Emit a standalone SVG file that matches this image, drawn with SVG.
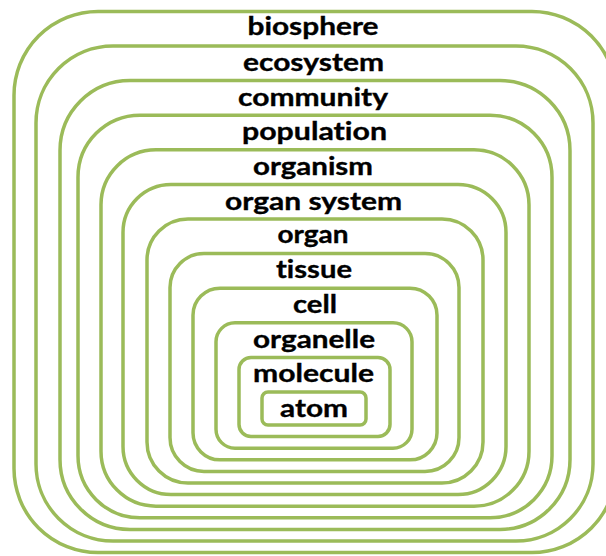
<svg xmlns="http://www.w3.org/2000/svg" width="606" height="556" viewBox="0 0 606 556">
<style>
.box{fill:none;stroke:#9BBB59;stroke-width:3.5}
.lbl{font-family:Lato,"Open Sans","Liberation Sans",sans-serif;font-weight:700;font-size:24.5px;fill:#000;stroke:#000;stroke-width:0.35;text-anchor:middle;font-variant-ligatures:none;font-feature-settings:"liga" 0,"dlig" 0}
</style>
<rect x="0" y="0" width="606" height="556" fill="#fff"/>
<g id="biosphere"><rect class="box" x="14" y="11.4" width="602" height="541.2" rx="84" ry="84"/><text class="lbl" x="313" y="35" textLength="131" lengthAdjust="spacingAndGlyphs">biosphere</text></g>
<g id="ecosystem"><rect class="box" x="36" y="46" width="557" height="495" rx="77" ry="77"/><text class="lbl" x="313.5" y="71" textLength="141" lengthAdjust="spacingAndGlyphs">ecosystem</text></g>
<g id="community"><rect class="box" x="60" y="80.6" width="510" height="448.8" rx="70" ry="70"/><text class="lbl" x="313" y="106" textLength="150" lengthAdjust="spacingAndGlyphs">community</text></g>
<g id="population"><rect class="box" x="78" y="115.2" width="474" height="402.6" rx="62" ry="62"/><text class="lbl" x="314.5" y="140" textLength="145" lengthAdjust="spacingAndGlyphs">population</text></g>
<g id="organism"><rect class="box" x="101" y="149.8" width="428" height="356.4" rx="55" ry="55"/><text class="lbl" x="313" y="175" textLength="120" lengthAdjust="spacingAndGlyphs">organism</text></g>
<g id="organ-system"><rect class="box" x="123" y="184.4" width="383" height="310.2" rx="48" ry="48"/><text class="lbl" x="313.5" y="210" textLength="177" lengthAdjust="spacingAndGlyphs">organ system</text></g>
<g id="organ"><rect class="box" x="147" y="219" width="336" height="264" rx="41" ry="41"/><text class="lbl" x="313" y="243" textLength="71" lengthAdjust="spacingAndGlyphs">organ</text></g>
<g id="tissue"><rect class="box" x="170" y="253.6" width="289" height="217.8" rx="34" ry="34"/><text class="lbl" x="314" y="278" textLength="76" lengthAdjust="spacingAndGlyphs">tissue</text></g>
<g id="cell"><rect class="box" x="193" y="288.2" width="244" height="171.6" rx="27" ry="27"/><text class="lbl" x="315" y="313" textLength="44" lengthAdjust="spacingAndGlyphs">cell</text></g>
<g id="organelle"><rect class="box" x="216" y="322.8" width="196" height="125.4" rx="19" ry="19"/><text class="lbl" x="314" y="348" textLength="122" lengthAdjust="spacingAndGlyphs">organelle</text></g>
<g id="molecule"><rect class="box" x="239" y="357.4" width="151" height="79.2" rx="12" ry="12"/><text class="lbl" x="313.5" y="382" textLength="121" lengthAdjust="spacingAndGlyphs">molecule</text></g>
<g id="atom"><rect class="box" x="262" y="392" width="104" height="33" rx="6" ry="6"/><text class="lbl" x="314" y="417" textLength="68" lengthAdjust="spacingAndGlyphs">atom</text></g>
<g id="connectors"/>
</svg>
